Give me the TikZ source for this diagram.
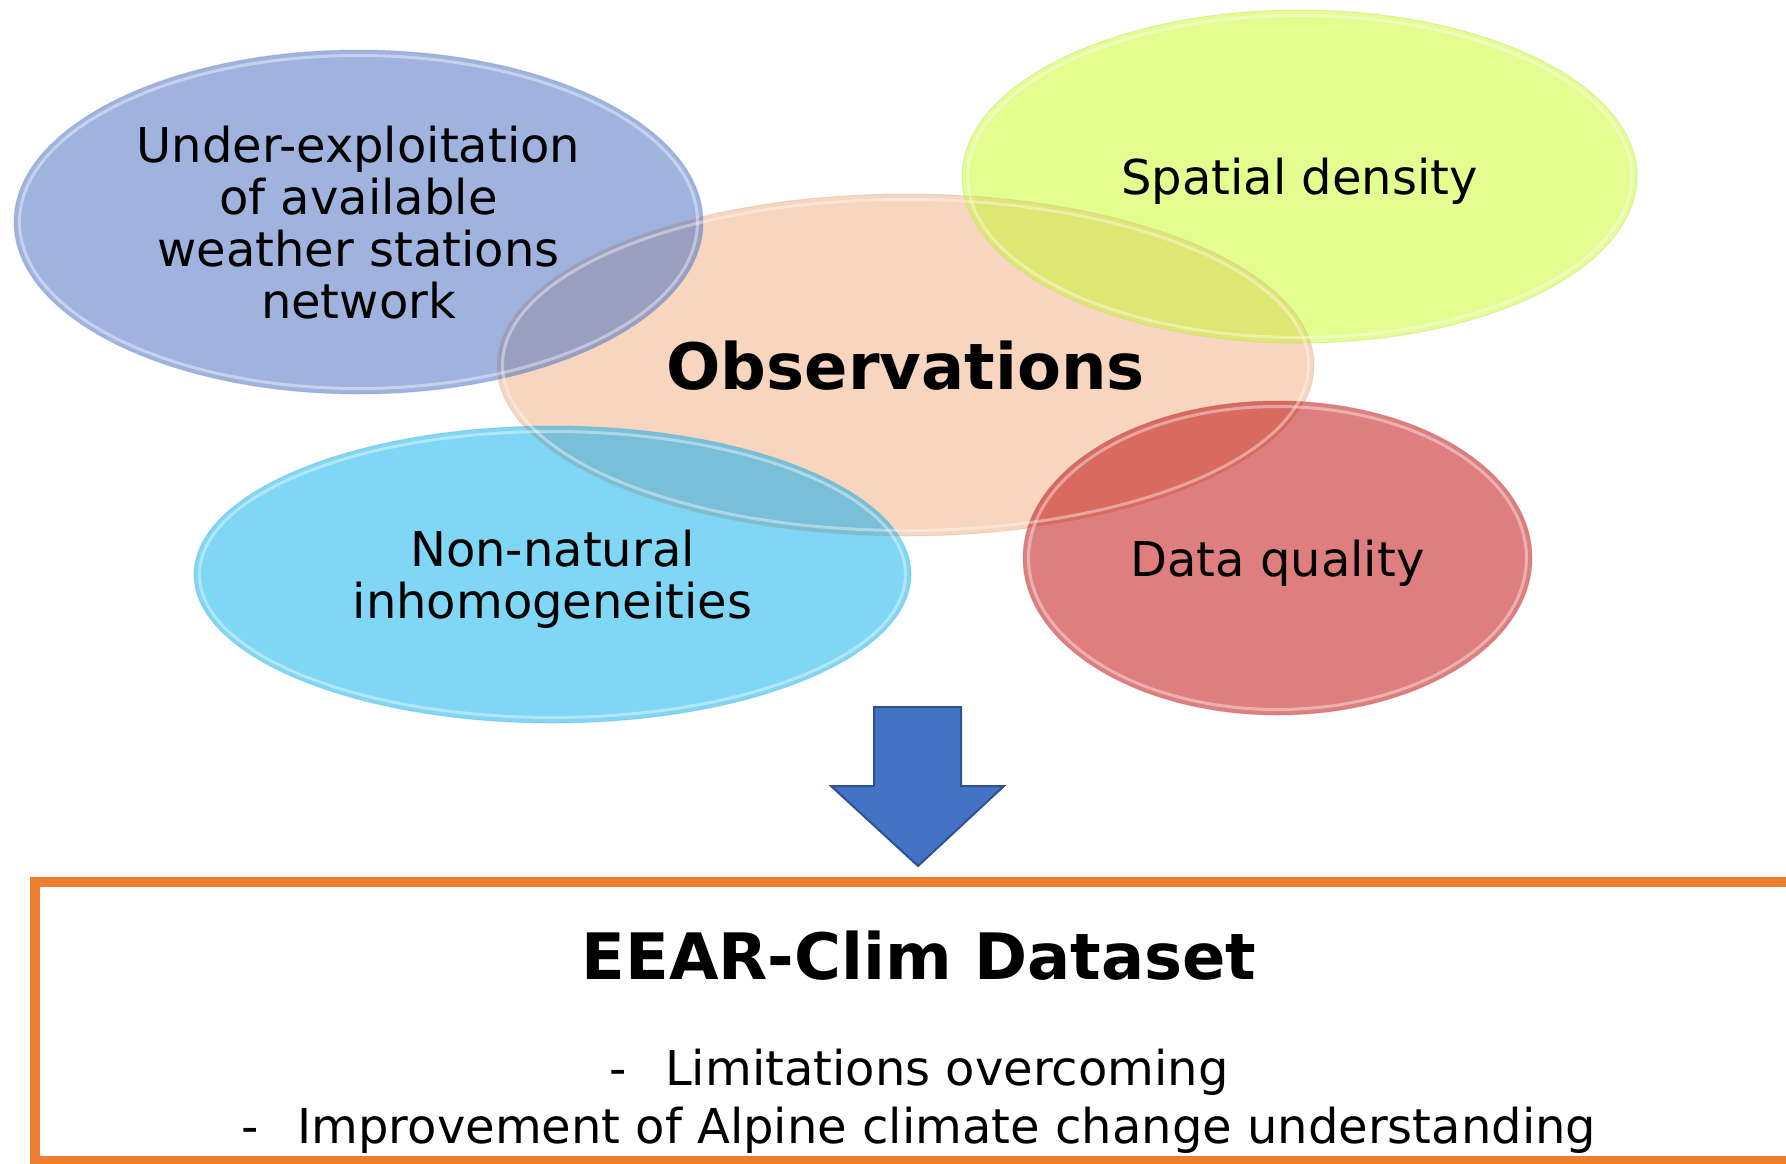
\documentclass[tikz,border=0pt]{standalone}
\usepackage{fontspec}
\setmainfont{DejaVu Sans}
\usetikzlibrary{positioning}

\definecolor{obsorange}{HTML}{F7D5BE}
\definecolor{netblue}{HTML}{A0B3DF}
\definecolor{homcyan}{HTML}{80D6F5}
\definecolor{densyellow}{HTML}{E3FD91}
\definecolor{qualred}{HTML}{DF7E7E}
\definecolor{netobs}{HTML}{9A9FC1}
\definecolor{homobs}{HTML}{79BFD7}
\definecolor{densobs}{HTML}{E0E673}
\definecolor{qualobs}{HTML}{D96A60}
\definecolor{arrowblue}{HTML}{4472C4}
\definecolor{arrowedge}{HTML}{2F528F}
\definecolor{frameorange}{HTML}{ED7D31}

\begin{document}
\begin{tikzpicture}[
    x=1pt, y=-1pt,
    obs radii/.style={x radius=408.5pt, y radius=171pt},
    net radii/.style={x radius=344.5pt, y radius=172pt},
    hom radii/.style={x radius=358.5pt, y radius=148.5pt},
    dens radii/.style={x radius=337.5pt, y radius=166.5pt},
    qual radii/.style={x radius=254.5pt, y radius=157pt},
    edgeline/.style={draw=#1!80!black, line width=1pt, opacity=0.3},
    rim/.style={draw=white, line width=3pt, opacity=0.4},
    bubbletext/.style={font=\fontsize{48}{52}\selectfont, align=center, text depth=0pt, inner sep=0pt},
    heading/.style={font=\fontsize{64}{70}\selectfont\bfseries, text depth=0pt, inner sep=0pt},
    listtext/.style={font=\fontsize{48}{58}\selectfont, align=center, text depth=0pt, inner sep=0pt},
    framebox/.style={draw=frameorange, line width=10pt, minimum width=1768pt, minimum height=279pt, outer sep=0pt, inner sep=0pt},
    blockarrow/.style={fill=arrowblue, draw=arrowedge, line width=2pt, line join=miter},
    ]
    \useasboundingbox (0,0) rectangle (1786,1164);
    \clip (0,0) rectangle (1786,1164);

    \coordinate (obs) at (905.5,365);
    \coordinate (net) at (358.5,222);
    \coordinate (hom) at (552.5,574.5);
    \coordinate (dens) at (1299.5,176.5);
    \coordinate (qual) at (1277.5,558);

    % bubbles
    \fill[obsorange] (obs) ellipse [obs radii];
    \fill[netblue] (net) ellipse [net radii];
    \fill[homcyan] (hom) ellipse [hom radii];
    \fill[densyellow] (dens) ellipse [dens radii];
    \fill[qualred] (qual) ellipse [qual radii];

    % where they cross the central one
    \begin{scope}
        \clip (obs) ellipse [obs radii];
        \fill[netobs] (net) ellipse [net radii];
        \fill[homobs] (hom) ellipse [hom radii];
        \fill[densobs] (dens) ellipse [dens radii];
        \fill[qualobs] (qual) ellipse [qual radii];
    \end{scope}

    \draw[edgeline=obsorange] (obs) ellipse [obs radii];
    \draw[edgeline=netblue] (net) ellipse [net radii];
    \draw[edgeline=homcyan] (hom) ellipse [hom radii];
    \draw[edgeline=densyellow] (dens) ellipse [dens radii];
    \draw[edgeline=qualred] (qual) ellipse [qual radii];
    \draw[rim] (obs) ellipse [x radius=403pt, y radius=165.5pt];
    \draw[rim] (net) ellipse [x radius=339pt, y radius=166.5pt];
    \draw[rim] (hom) ellipse [x radius=353pt, y radius=143pt];
    \draw[rim] (dens) ellipse [x radius=332pt, y radius=161pt];
    \draw[rim] (qual) ellipse [x radius=249pt, y radius=151.5pt];

    \node[heading] (obslabel) at (obs) {Observations};
    \node[bubbletext] (netlabel) at (net) {Under-exploitation\\of available\\weather stations\\network};
    \node[bubbletext] (homlabel) at (hom) {Non-natural\\inhomogeneities};
    \node[bubbletext] (denslabel) at (dens) {Spatial density};
    \node[bubbletext] (quallabel) at (qual) {Data quality};

    % result box
    \node[framebox, anchor=north west] (dataset) at (35,882) {};
    \node[heading] (datasettitle) at (919,955) {EEAR-Clim Dataset};
    \node[listtext] (datasetlist) at (919,1096) {-\hspace{0.8em}Limitations overcoming\\-\hspace{0.8em}Improvement of Alpine climate change understanding};

    \draw[blockarrow] (874,707) -- (961,707) -- (961,786) -- (1004,786) -- (918,866) -- (831,786) -- (874,786) -- cycle;
\end{tikzpicture}
\end{document}
